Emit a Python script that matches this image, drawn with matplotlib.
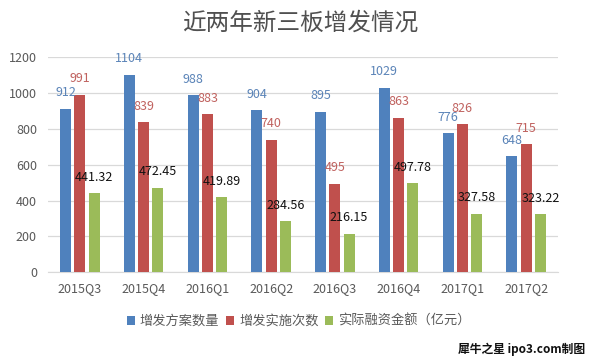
import matplotlib
matplotlib.use("Agg")
import matplotlib.pyplot as plt
import numpy as np
from matplotlib.patches import Patch

plt.rcParams['font.family'] = ['Noto Sans CJK SC', 'DejaVu Sans']

categories = ['2015Q3', '2015Q4', '2016Q1', '2016Q2', '2016Q3', '2016Q4', '2017Q1', '2017Q2']
plans = [912, 1104, 988, 904, 895, 1029, 776, 648]
implemented = [991, 839, 883, 740, 495, 863, 826, 715]
financing = [441.32, 472.45, 419.89, 284.56, 216.15, 497.78, 327.58, 323.22]
series_names = ['增发方案数量', '增发实施次数', '实际融资金额（亿元）']
title = '近两年新三板增发情况'
credit = '犀牛之星 ipo3.com制图'
yticks = [0, 200, 400, 600, 800, 1000, 1200]

bar_colors = ['#4F81BD', '#C0504D', '#9BBB59']
label_colors = ['#5B84B8', '#C0625F', '#111111']

fig = plt.figure(figsize=(6.0, 3.62), dpi=100)
ax = fig.add_axes([0.08, 0.2478, 0.85, 0.5939])

x = np.arange(len(categories))
width = 0.1725
step = 0.224
series = [plans, implemented, financing]
for i, (vals, c, lc) in enumerate(zip(series, bar_colors, label_colors)):
    pos = x + (i - 1) * step
    bars = ax.bar(pos, vals, width=width, color=c, zorder=3)
    for b, v in zip(bars, vals):
        txt = f'{v:g}' if i < 2 else f'{v:.2f}'
        ax.annotate(txt, (b.get_x() + b.get_width() / 2, b.get_height()),
                    xytext=(0, 11.5), textcoords='offset points',
                    ha='center', va='center', fontsize=9, color=lc, zorder=4)

ax.set_xlim(-0.5, len(categories) - 0.5)
ax.set_ylim(0, 1200)
ax.set_yticks(yticks)
ax.set_xticks(x)
ax.set_xticklabels(categories)
ax.tick_params(axis='both', length=0, labelsize=9, colors='#595959')
ax.tick_params(axis='y', pad=8)
ax.tick_params(axis='x', pad=7)
ax.yaxis.grid(True, color='#D9D9D9', linewidth=0.9, zorder=0)
for s in ['top', 'right', 'left']:
    ax.spines[s].set_visible(False)
ax.spines['bottom'].set_color('#D9D9D9')
ax.spines['bottom'].set_zorder(1)

fig.text(0.5, 0.937, title, ha='center', va='center', fontsize=17, color='#505050')

handles = [Patch(facecolor=c, edgecolor='none') for c in bar_colors]
fig.legend(handles, series_names, loc='center', bbox_to_anchor=(0.498, 0.112),
           ncol=3, frameon=False, fontsize=9.5, labelcolor='#595959',
           handlelength=0.6, handleheight=0.6, handletextpad=0.4, columnspacing=0.5)

fig.text(0.975, 0.036, credit, ha='right', va='center', fontsize=8.5,
         color='#111111', fontweight='bold')

fig.savefig('out.png', dpi=100, facecolor='white')
